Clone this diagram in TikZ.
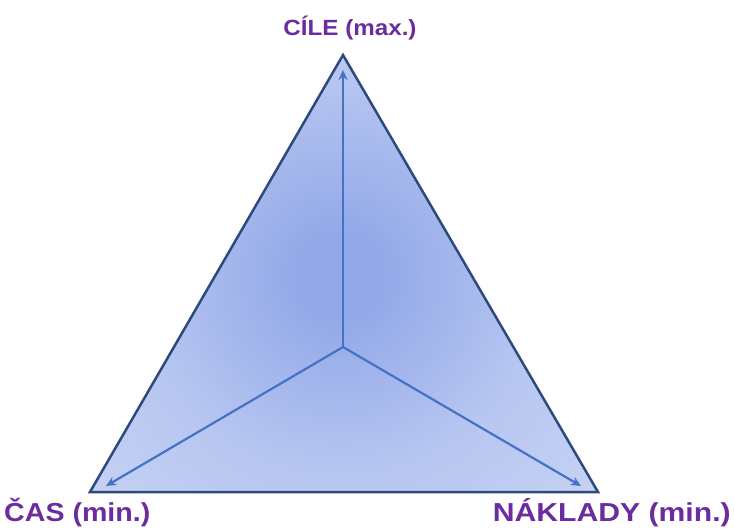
\documentclass[tikz,border=0pt]{standalone}
\usepackage{fontspec}
\setmainfont{Liberation Sans}
\usetikzlibrary{arrows.meta}
\definecolor{lab}{HTML}{6A2C9E}
\definecolor{edge}{HTML}{2E4A7D}
\definecolor{arr}{HTML}{4472C4}
\definecolor{cin}{RGB}{146,168,232}
\definecolor{cmid}{RGB}{184,199,241}
\definecolor{cout}{RGB}{224,230,248}
\pgfdeclareradialshading{triglow}{\pgfpoint{0bp}{0bp}}{color(0bp)=(cin); color(3bp)=(cin); color(15bp)=(cmid); color(44bp)=(cout); color(50bp)=(cout)}
\tikzset{
  lbl/.style={text=lab, inner sep=0pt},
  axis/.style={draw=arr, line width=2.2pt, -{Stealth[length=10pt,width=9pt]}},
}
\begin{document}
\begin{tikzpicture}[x=1pt,y=-1pt]
\useasboundingbox (0,0) rectangle (734,529);
\coordinate (T) at (343,55);
\coordinate (L) at (90,492);
\coordinate (R) at (598,492);
\coordinate (C) at (343,347);
\coordinate (Ta) at (343,70);
\coordinate (La) at (106,486);
\coordinate (Ra) at (581,486);
\begin{scope}
\clip (T) -- (L) -- (R) -- cycle;
\shade[shading=triglow] (340,275) circle (340);
\end{scope}
\draw[axis] (C) -- (Ta);
\draw[axis] (C) -- (La);
\draw[axis] (C) -- (Ra);
\draw[edge, line width=2.5pt, line join=miter] (T) -- (L) -- (R) -- cycle;
\node[lbl, font=\fontsize{22}{26}\bfseries, xscale=1.1] (top) at (350,28) {CÍLE (max.)};
\node[lbl, font=\fontsize{26}{30}\bfseries, xscale=1.1, anchor=west] (left) at (4,513) {ČAS (min.)};
\node[lbl, font=\fontsize{26}{30}\bfseries, xscale=1.16, anchor=east] (right) at (731,513) {NÁKLADY (min.)};
\end{tikzpicture}
\end{document}
